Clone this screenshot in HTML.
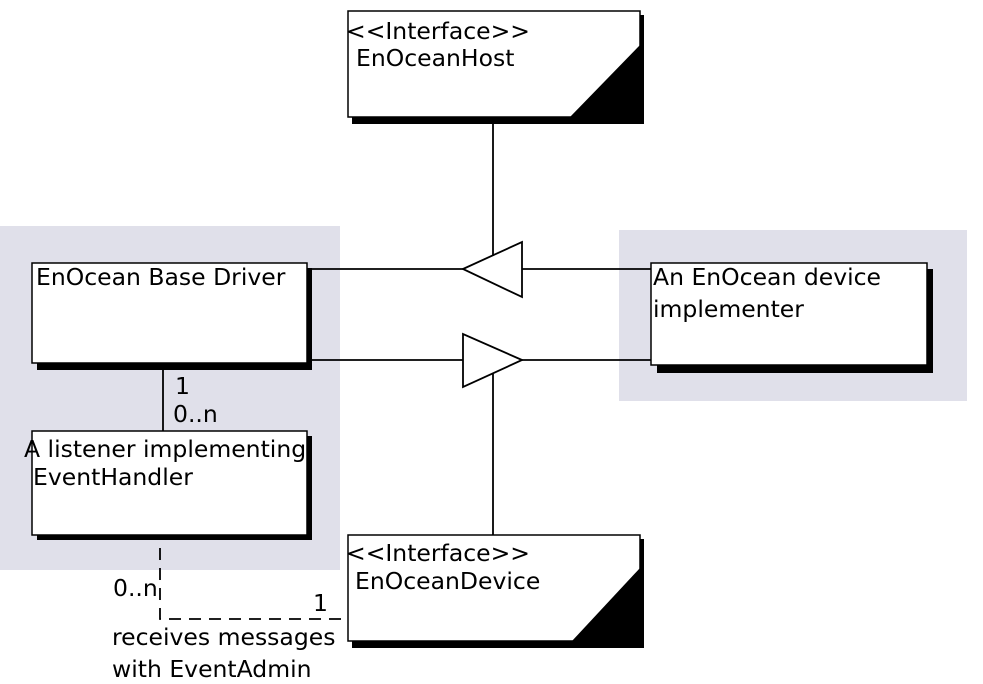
<!DOCTYPE html>
<html><head><style>body{margin:0;background:#fff}svg{display:block}text{font-family:"DejaVu Sans","Liberation Sans",sans-serif;font-size:23.5px;fill:#000}</style></head>
<body>
<svg width="983" height="684" viewBox="0 0 983 684">
<rect x="0" y="226" width="340" height="344" fill="#e0e0ea"/>
<rect x="619" y="230" width="348" height="171" fill="#e0e0ea"/>
<!-- EnOceanHost -->
<rect x="352" y="15" width="292" height="109" fill="#000"/>
<rect x="348" y="11" width="292" height="106" fill="#fff" stroke="#000" stroke-width="1.5"/>
<polygon points="570,117 640,45 640,117" fill="#000"/>
<text x="346" y="39">&lt;&lt;Interface&gt;&gt;</text>
<text x="356" y="66">EnOceanHost</text>
<!-- Base driver -->
<rect x="37" y="268" width="275" height="102" fill="#000"/>
<rect x="32" y="263" width="275" height="100" fill="#fff" stroke="#000" stroke-width="1.5"/>
<text x="36" y="285">EnOcean Base Driver</text>
<!-- Device implementer -->
<rect x="657" y="269" width="276" height="104" fill="#000"/>
<rect x="651" y="263" width="276" height="102" fill="#fff" stroke="#000" stroke-width="1.5"/>
<text x="653" y="285">An EnOcean device</text>
<text x="653" y="317">implementer</text>
<!-- Listener -->
<rect x="37" y="436" width="275" height="104" fill="#000"/>
<rect x="32" y="431" width="275" height="104" fill="#fff" stroke="#000" stroke-width="1.5"/>
<text x="24" y="457">A listener implementing</text>
<text x="33" y="485">EventHandler</text>
<!-- EnOceanDevice -->
<rect x="352" y="539" width="292" height="109" fill="#000"/>
<rect x="348" y="535" width="292" height="106" fill="#fff" stroke="#000" stroke-width="1.5"/>
<polygon points="572,641 640,568 640,641" fill="#000"/>
<text x="346" y="561">&lt;&lt;Interface&gt;&gt;</text>
<text x="355" y="589">EnOceanDevice</text>
<!-- connectors -->
<g stroke="#000" stroke-width="1.8" fill="none">
<line x1="307" y1="269" x2="463" y2="269"/>
<line x1="522" y1="269" x2="651" y2="269"/>
<polygon points="463,269 522,242 522,297" fill="#fff"/>
<line x1="493" y1="124" x2="493" y2="256"/>
<line x1="307" y1="360" x2="463" y2="360"/>
<line x1="522" y1="360" x2="651" y2="360"/>
<polygon points="522,360 463,334 463,387" fill="#fff"/>
<line x1="493" y1="374" x2="493" y2="535"/>
<line x1="163" y1="370" x2="163" y2="431"/>
<path d="M160 548 V619 H348" stroke-dasharray="12,8"/>
</g>
<text x="175" y="394">1</text>
<text x="173" y="422">0..n</text>
<text x="113" y="596">0..n</text>
<text x="313" y="611">1</text>
<text x="112" y="645">receives messages</text>
<text x="112" y="677">with EventAdmin</text>
</svg>
</body></html>
